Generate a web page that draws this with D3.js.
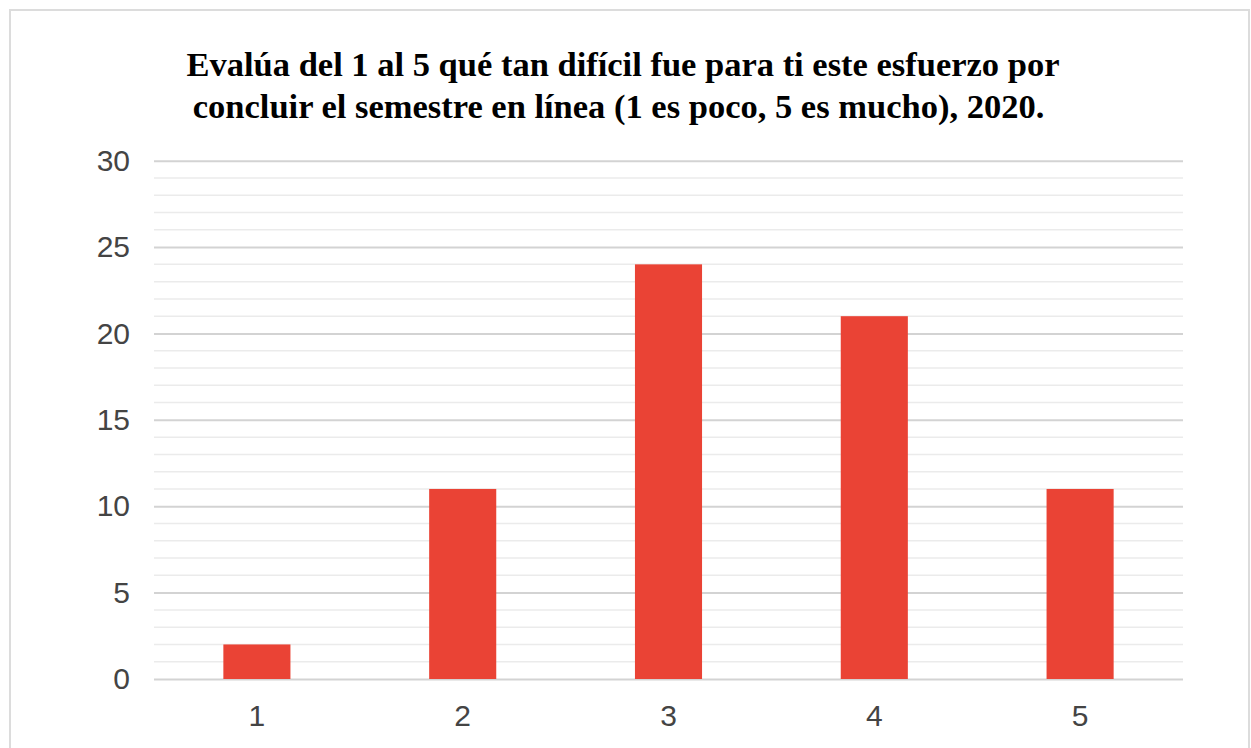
<!DOCTYPE html>
<html>
<head>
<meta charset="utf-8">
<script src="https://cdn.jsdelivr.net/npm/d3@7"></script>
<style>
  html, body { margin: 0; padding: 0; background: #fff; }
  svg { display: block; }
</style>
</head>
<body>
<svg id="chart" width="1251" height="748"></svg>
<script>
const categories = ["1", "2", "3", "4", "5"];
const values = [2, 11, 24, 21, 11];
const yTicks = [0, 5, 10, 15, 20, 25, 30];
const titleLines = [
  "Evalúa del 1 al 5 qué tan difícil fue para ti este esfuerzo por",
  "concluir el semestre en línea (1 es poco, 5 es mucho), 2020."
];

const svg = d3.select("#chart");

// outer frame
svg.append("rect")
  .attr("x", 10).attr("y", 10)
  .attr("width", 1239).attr("height", 760)
  .attr("fill", "#fff")
  .attr("stroke", "#dcdcdc")
  .attr("stroke-width", 2);

const plot = { left: 154, right: 1183, top: 160.7, bottom: 679 };

const x = d3.scaleBand()
  .domain(categories)
  .range([plot.left, plot.right])
  .paddingInner(0.674)
  .paddingOuter(0.337);

const y = d3.scaleLinear()
  .domain([0, 30])
  .range([plot.bottom, plot.top]);

// minor gridlines
const minor = d3.range(0, 31, 1).filter(v => v % 5 !== 0);
svg.append("g").selectAll("line")
  .data(minor).join("line")
  .attr("x1", plot.left).attr("x2", plot.right)
  .attr("y1", d => y(d)).attr("y2", d => y(d))
  .attr("stroke", "#ebebeb").attr("stroke-width", 1.5);

// major gridlines + y labels via axis
const yAxis = d3.axisLeft(y)
  .tickValues(yTicks)
  .tickSize(-(plot.right - plot.left))
  .tickPadding(24)
  .tickFormat(d3.format("d"));

const gy = svg.append("g")
  .attr("transform", `translate(${plot.left},0)`)
  .call(yAxis);
gy.select(".domain").remove();
gy.selectAll(".tick line").attr("stroke", "#d3d3d3").attr("stroke-width", 2);
gy.selectAll(".tick text")
  .attr("fill", "#444")
  .style("font-family", "'Liberation Sans', Arial, sans-serif")
  .style("font-size", "30px");

// bars
svg.append("g").selectAll("rect")
  .data(values).join("rect")
  .attr("x", (d, i) => x(categories[i]))
  .attr("width", x.bandwidth())
  .attr("y", d => y(d))
  .attr("height", d => y(0) - y(d))
  .attr("fill", "#EA4335");

// x axis labels
const xAxis = d3.axisBottom(x).tickSize(0).tickPadding(26);
const gx = svg.append("g")
  .attr("transform", `translate(0,${plot.bottom})`)
  .call(xAxis);
gx.select(".domain").remove();
gx.selectAll(".tick text")
  .attr("fill", "#444")
  .style("font-family", "'Liberation Sans', Arial, sans-serif")
  .style("font-size", "30px");

// title
const titleLayout = [
  { y: 76, x1: 186, x2: 1060 },
  { y: 118, x1: 180, x2: 1057 }
];
const titles = svg.append("g").selectAll("text")
  .data(titleLines).join("text")
  .attr("x", (d, i) => (titleLayout[i].x1 + titleLayout[i].x2) / 2)
  .attr("y", (d, i) => titleLayout[i].y)
  .attr("text-anchor", "middle")
  .attr("fill", "#000")
  .style("font-family", "'Liberation Serif', 'Times New Roman', serif")
  .style("font-weight", "bold")
  .style("font-size", "34px")
  .text(d => d);
// fit font size to reference line widths
let scale = Infinity;
titles.each(function(d, i) {
  const w = this.getComputedTextLength();
  scale = Math.min(scale, (titleLayout[i].x2 - titleLayout[i].x1) / w);
});
titles.style("font-size", (34 * Math.min(scale, 1.15)).toFixed(1) + "px");
</script>
</body>
</html>
